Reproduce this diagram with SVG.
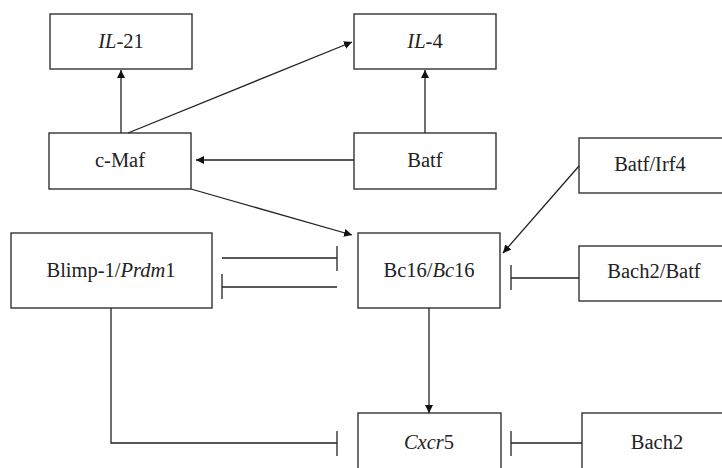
<svg xmlns="http://www.w3.org/2000/svg" width="722" height="468" viewBox="0 0 722 468">
<style>
.box{fill:#fff;stroke:#333;stroke-width:1.4}
.lbl{font-family:"Liberation Serif","Times New Roman",serif;font-size:20.5px;fill:#222;text-anchor:middle}
.it{font-style:italic}
.ln{fill:none;stroke:#222;stroke-width:1.3}
</style>
<defs>
<marker id="arr" viewBox="0 0 10 10" refX="10" refY="5" markerWidth="8" markerHeight="8" markerUnits="userSpaceOnUse" orient="auto">
<path d="M0,0 L10,5 L0,10 z" fill="#111"/>
</marker>
</defs>
<g id="IL21"><rect class="box" x="50" y="14" width="142" height="55"/><text class="lbl" x="121" y="48"><tspan class="it">IL</tspan>-21</text></g>
<g id="IL4"><rect class="box" x="354" y="14" width="142" height="55"/><text class="lbl" x="425" y="48"><tspan class="it">IL</tspan>-4</text></g>
<g id="cMaf"><rect class="box" x="49" y="133" width="142" height="56"/><text class="lbl" x="120" y="167">c-Maf</text></g>
<g id="Batf"><rect class="box" x="354" y="133" width="142" height="56"/><text class="lbl" x="425" y="167">Batf</text></g>
<g id="BatfIrf4"><rect class="box" x="579" y="138" width="150" height="55"/><text class="lbl" x="650" y="171">Batf/Irf4</text></g>
<g id="Blimp"><rect class="box" x="11" y="233" width="201" height="75"/><text class="lbl" x="111" y="277">Blimp-1/<tspan class="it">Prdm</tspan>1</text></g>
<g id="Bc16"><rect class="box" x="358" y="233" width="142" height="75"/><text class="lbl" x="429" y="277">Bc16/<tspan class="it">Bc</tspan>16</text></g>
<g id="Bach2Batf"><rect class="box" x="579" y="246" width="150" height="55"/><text class="lbl" x="654" y="278">Bach2/Batf</text></g>
<g id="Cxcr5"><rect class="box" x="358" y="413" width="143" height="70"/><text class="lbl" x="429" y="449"><tspan class="it">Cxcr</tspan>5</text></g>
<g id="Bach2"><rect class="box" x="582" y="413" width="150" height="70"/><text class="lbl" x="657" y="449">Bach2</text></g>
<g id="connectors">
<line class="ln" x1="121" y1="133" x2="121" y2="70" marker-end="url(#arr)"/>
<line class="ln" x1="128" y1="133" x2="352" y2="42" marker-end="url(#arr)"/>
<line class="ln" x1="425" y1="133" x2="425" y2="70" marker-end="url(#arr)"/>
<line class="ln" x1="354" y1="160" x2="196" y2="160" marker-end="url(#arr)"/>
<line class="ln" x1="191" y1="189" x2="352" y2="235" marker-end="url(#arr)"/>
<line class="ln" x1="579" y1="166" x2="503" y2="253" marker-end="url(#arr)"/>
<line class="ln" x1="222" y1="258" x2="337" y2="258"/>
<line class="ln" x1="337" y1="246" x2="337" y2="271"/>
<line class="ln" x1="222" y1="287" x2="337" y2="287"/>
<line class="ln" x1="222" y1="274" x2="222" y2="299"/>
<line class="ln" x1="579" y1="278" x2="511" y2="278"/>
<line class="ln" x1="511" y1="265" x2="511" y2="290"/>
<line class="ln" x1="429" y1="308" x2="429" y2="413" marker-end="url(#arr)"/>
<polyline class="ln" points="111,308 111,443 337,443"/>
<line class="ln" x1="337" y1="431" x2="337" y2="456"/>
<line class="ln" x1="582" y1="443" x2="511" y2="443"/>
<line class="ln" x1="511" y1="431" x2="511" y2="456"/>
</g>
</svg>
